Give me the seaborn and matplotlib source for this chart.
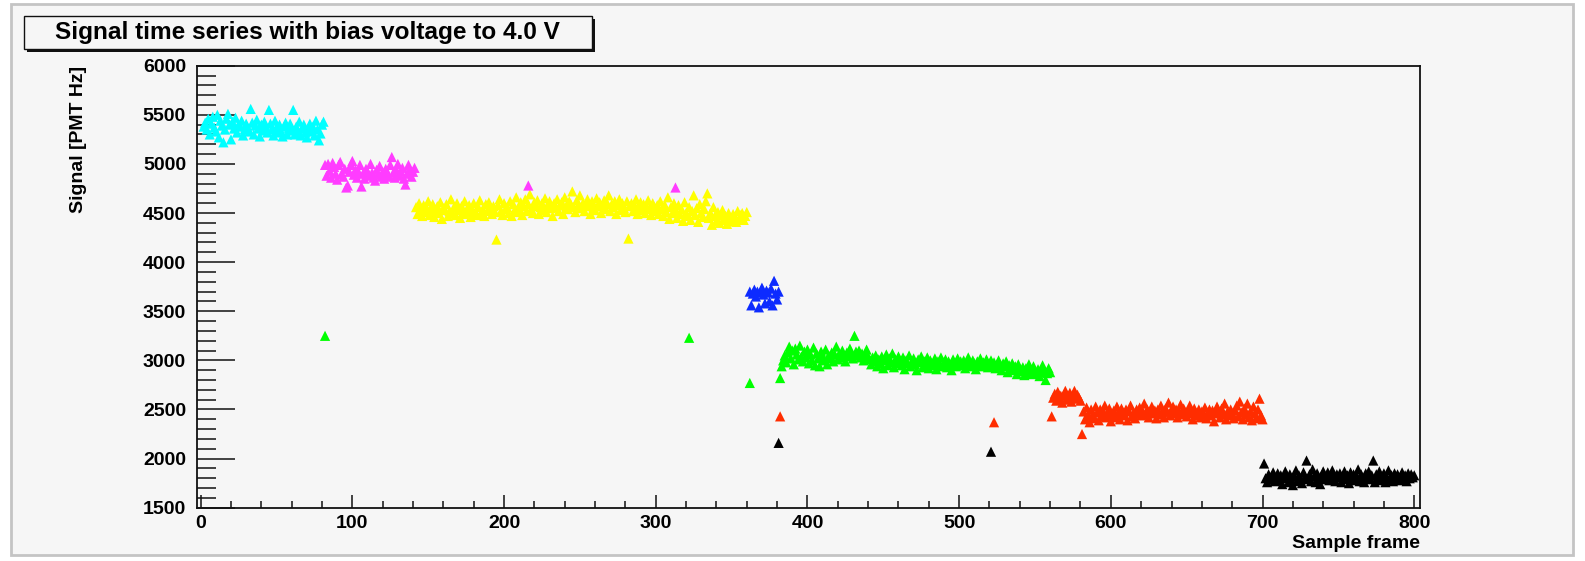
import numpy as np
import pandas as pd
import matplotlib
matplotlib.use("Agg")
import matplotlib.pyplot as plt
from matplotlib.patches import Rectangle
from matplotlib.ticker import MultipleLocator
import seaborn as sns

# ---------------------------------------------------------------------------
# Signal readings per sample frame, one run per colour (consecutive frames)
# ---------------------------------------------------------------------------
run_names = ["run1", "run2", "run3", "run4", "run5", "run6", "run7"]
run_colors = ["#00ffff", "#ff3cff", "#ffff00", "#0d2bff", "#00ff00", "#ff2d00", "#000000"]
run_starts = [2, 82, 142, 362, 382, 561, 701]

run1_signal = [
    5380, 5420, 5350, 5460, 5300, 5410, 5480, 5370, 5330, 5500,
    5270, 5440, 5390, 5220, 5350, 5460, 5510, 5400, 5250, 5430,
    5360, 5470, 5320, 5400, 5380, 5440, 5290, 5350, 5410, 5370,
    5330, 5560, 5420, 5300, 5390, 5450, 5360, 5280, 5400, 5340,
    5430, 5380, 5320, 5550, 5410, 5350, 5290, 5440, 5370, 5320,
    5400, 5330, 5280, 5380, 5420, 5300, 5360, 5410, 5340, 5550,
    5300, 5380, 5330, 5430, 5290, 5360, 5400, 5320, 5270, 5350,
    5410, 5330, 5380, 5290, 5440, 5350, 5240, 5310, 5400, 5430,
]
run2_signal = [
    4990, 4880, 5000, 4930, 4860, 5010, 4970, 4900, 4840, 4990,
    5020, 4900, 4870, 4950, 4760, 4780, 4920, 4990, 5030, 4890,
    4940, 4860, 4920, 4990, 4770, 4900, 4850, 4950, 4920, 4880,
    5000, 4910, 4860, 4830, 4940, 4890, 4980, 4870, 4920, 4850,
    4950, 4900, 4870, 4990, 5070, 4910, 4860, 4940, 5000, 4880,
    4920, 4960, 4850, 4790, 4900, 4990, 4940, 4870, 4920, 4960,
]
run3_signal = [
    4560, 4490, 4600, 4530, 4470, 4580, 4510, 4550, 4620, 4480,
    4540, 4590, 4460, 4520, 4570, 4500, 4610, 4440, 4550, 4530,
    4590, 4470, 4520, 4640, 4500, 4560, 4480, 4600, 4530, 4450,
    4570, 4510, 4620, 4490, 4550, 4580, 4460, 4530, 4600, 4510,
    4480, 4560, 4630, 4500, 4540, 4470, 4590, 4520, 4610, 4550,
    4490, 4570, 4510, 4230, 4580, 4640, 4520, 4480, 4600, 4540,
    4560, 4500, 4620, 4470, 4590, 4530, 4660, 4510, 4550, 4610,
    4480, 4570, 4640, 4520, 4590, 4690, 4540, 4500, 4610, 4570,
    4630, 4490, 4560, 4600, 4530, 4650, 4510, 4580, 4620, 4550,
    4470, 4600, 4560, 4640, 4520, 4580, 4610, 4490, 4660, 4570,
    4540, 4620, 4590, 4720, 4560, 4510, 4630, 4580, 4680, 4550,
    4600, 4520, 4570, 4640, 4590, 4490, 4620, 4560, 4530, 4650,
    4580, 4610, 4500, 4570, 4630, 4540, 4600, 4680, 4520, 4590,
    4560, 4620, 4490, 4580, 4640, 4530, 4600, 4550, 4510, 4620,
    4240, 4570, 4600, 4520, 4580, 4640, 4490, 4560, 4610, 4530,
    4590, 4500, 4570, 4630, 4540, 4480, 4600, 4560, 4520, 4580,
    4490, 4620, 4540, 4470, 4580, 4510, 4660, 4440, 4560, 4500,
    4600, 4530, 4450, 4580, 4490, 4540, 4420, 4610, 4500, 4470,
    4560, 4430, 4520, 4680, 4480, 4550, 4410, 4590, 4500, 4460,
    4540, 4620, 4700, 4450, 4500, 4380, 4560, 4470, 4420, 4510,
    4400, 4480, 4530, 4430, 4470, 4390, 4500, 4450, 4420, 4490,
    4460, 4410, 4520, 4440, 4480, 4500, 4430, 4470, 4510,
]
run4_signal = [
    3700, 3560, 3680, 3720, 3650, 3700, 3540, 3690, 3740, 3670,
    3580, 3710, 3690, 3600, 3730, 3560, 3810, 3680, 3620, 3700,
]
run5_signal = [
    2820, 2940, 3000, 3050, 2980, 3080, 3140, 3020, 3100, 2960,
    3120, 3060, 3010, 3150, 3040, 2990, 3090, 3030, 3110, 2970,
    3060, 3000, 3130, 2950, 3070, 3020, 2940, 3090, 3040, 3000,
    3110, 2960, 3050, 3020, 3080, 2990, 3060, 3140, 3010, 3070,
    3030, 3100, 3050, 2990, 3080, 3040, 3120, 3060, 3020, 3250,
    3090, 3050, 3100, 3030, 3070, 3000, 3060, 3110, 3040, 3010,
    2960, 3030, 2990, 3050, 2940, 3010, 2970, 3040, 2920, 3000,
    3060, 2950, 3020, 2980, 3070, 2930, 3010, 2970, 3040, 2990,
    2950, 3030, 2910, 3000, 2970, 3050, 2940, 2990, 3020, 2960,
    2900, 3010, 2980, 3040, 2930, 2990, 2960, 3030, 2920, 3000,
    2970, 2950, 3020, 2910, 2990, 2960, 3030, 2940, 2980, 3010,
    2930, 2990, 2960, 2900, 3010, 2970, 2940, 3020, 2960, 2990,
    2950, 3000, 2920, 2980, 3030, 2960, 2940, 3000, 2970, 2910,
    2990, 2960, 3020, 2940, 2980, 2950, 3010, 2930, 2970, 3000,
    2940, 2980, 2920, 2960, 3000, 2950, 2900, 2970, 2940, 2990,
    2880, 2950, 2920, 2970, 2900, 2940, 2860, 2960, 2910, 2890,
    2930, 2850, 2920, 2880, 2960, 2900, 2860, 2940, 2890, 2870,
    2910, 2840, 2880, 2950, 2900, 2800, 2870, 2920, 2880,
]
run6_signal = [
    2430, 2620, 2660, 2590, 2680, 2610, 2640, 2570, 2650, 2690,
    2600, 2630, 2670, 2580, 2640, 2690, 2610, 2650, 2620, 2590,
    2250, 2480, 2400, 2520, 2440, 2370, 2500, 2450, 2410, 2530,
    2470, 2390, 2500, 2430, 2480, 2540, 2420, 2460, 2510, 2380,
    2450, 2490, 2420, 2530, 2460, 2400, 2510, 2470, 2440, 2500,
    2390, 2480, 2540, 2430, 2470, 2410, 2500, 2460, 2520, 2440,
    2480, 2560, 2450, 2500, 2420, 2470, 2530, 2460, 2490, 2410,
    2500, 2450, 2540, 2470, 2420, 2510, 2480, 2570, 2440, 2490,
    2530, 2460, 2500, 2420, 2480, 2550, 2450, 2510, 2470, 2430,
    2490, 2540, 2460, 2400, 2510, 2470, 2440, 2500, 2420, 2480,
    2450, 2520, 2410, 2470, 2500, 2440, 2490, 2380, 2460, 2530,
    2470, 2420, 2510, 2450, 2560, 2400, 2480, 2440, 2500, 2460,
    2410, 2490, 2540, 2430, 2580, 2470, 2400, 2510, 2450, 2560,
    2420, 2480, 2390, 2530, 2460, 2410, 2500, 2610, 2440, 2400,
]
run7_signal = [
    1950, 1800, 1760, 1840, 1790, 1820, 1860, 1770, 1810, 1850,
    1780, 1830, 1740, 1800, 1870, 1810, 1760, 1840, 1790, 1730,
    1820, 1880, 1770, 1830, 1800, 1750, 1860, 1810, 1980, 1790,
    1840, 1770, 1890, 1820, 1760, 1850, 1800, 1740, 1830, 1870,
    1790, 1810, 1860, 1780, 1830, 1880, 1800, 1770, 1840, 1810,
    1850, 1760, 1820, 1870, 1790, 1830, 1750, 1860, 1800, 1840,
    1780, 1820, 1890, 1770, 1840, 1800, 1760, 1850, 1810, 1870,
    1790, 1830, 1980, 1760, 1840, 1800, 1870, 1780, 1820, 1850,
    1760, 1810, 1880, 1790, 1830, 1770, 1850, 1800, 1840, 1780,
    1820, 1860, 1790, 1830, 1770, 1850, 1800, 1840, 1810, 1830,
]
run_signals = [run1_signal, run2_signal, run3_signal, run4_signal,
               run5_signal, run6_signal, run7_signal]

# isolated readings that fall outside their run's block of frames
stray_frames = [82, 322, 362, 216, 313, 382, 523, 381, 521]
stray_signal = [3250, 3230, 2770, 4780, 4760, 2430, 2370, 2160, 2070]
stray_runs = ["run5", "run5", "run5", "run2", "run2", "run6", "run6", "run7", "run7"]

# ---------------------------------------------------------------------------
frames, signal, runs = [], [], []
for name, start, vals in zip(run_names, run_starts, run_signals):
    frames += list(range(start, start + len(vals)))
    signal += vals
    runs += [name] * len(vals)
frames += stray_frames
signal += stray_signal
runs += stray_runs
df = pd.DataFrame({"frame": frames, "signal": signal, "run": runs})
palette = dict(zip(run_names, run_colors))

sns.set_theme(style="ticks")
plt.rcParams["font.family"] = ["Liberation Sans", "DejaVu Sans"]
plt.rcParams["font.weight"] = "bold"
for key in ["text.color", "axes.labelcolor", "xtick.color", "ytick.color"]:
    plt.rcParams[key] = "black"

BG = "#f6f6f6"
W, H = 1585, 561
fig = plt.figure(figsize=(W / 100, H / 100), dpi=100, facecolor="white")

# canvas area with a thin grey border (behind everything else)
fig.patches.append(Rectangle((11 / W, 1 - 555 / H), (1573 - 11) / W, (555 - 4) / H,
                             transform=fig.transFigure, facecolor=BG,
                             edgecolor="#c4c4c4", linewidth=2.0, zorder=-10))

ax = fig.add_axes([196.7 / W, 1 - 507.7 / H, (1420 - 196.7) / W, (507.7 - 65.7) / H])
ax.set_facecolor(BG)

sns.scatterplot(data=df, x="frame", y="signal", hue="run", palette=palette,
                marker="^", s=54, linewidth=0, legend=False, ax=ax, zorder=3)

ax.set_xlim(-2.6, 803.8)
ax.set_ylim(1500, 6000)
ax.xaxis.set_major_locator(MultipleLocator(100))
ax.xaxis.set_minor_locator(MultipleLocator(20))
ax.yaxis.set_major_locator(MultipleLocator(500))
ax.yaxis.set_minor_locator(MultipleLocator(100))

for sp in ax.spines.values():
    sp.set_visible(True)
    sp.set_linewidth(1.3)
    sp.set_color("#111111")

ax.tick_params(axis="y", which="major", direction="in", length=27.4, width=1.1,
               color="#111111", labelsize=14, pad=7.7, left=True, right=False)
ax.tick_params(axis="y", which="minor", direction="in", length=13.7, width=1.1,
               color="#111111", left=True, right=False)
ax.tick_params(axis="x", which="major", direction="in", length=9.4, width=1.1,
               color="#111111", labelsize=14, pad=5, bottom=True, top=False)
ax.tick_params(axis="x", which="minor", direction="in", length=4.7, width=1.1,
               color="#111111", bottom=True, top=False)
for lab in ax.get_xticklabels() + ax.get_yticklabels():
    lab.set_fontweight("bold")

ax.set_xlabel("Sample frame", fontsize=14, fontweight="bold", loc="right")
ax.xaxis.set_label_coords(1.0, -0.062)
ax.set_ylabel("Signal [PMT Hz]", fontsize=14, fontweight="bold", loc="top")
ax.yaxis.set_label_coords(-0.0894, 1.0)

# title pave with a drop shadow
bx0, bx1, by0, by1 = 23.7, 591.5, 16, 48.5
fig.patches.append(Rectangle(((bx0 + 3.5) / W, 1 - (by1 + 3.5) / H), (bx1 - bx0) / W, (by1 - by0) / H,
                             transform=fig.transFigure, facecolor="#111111",
                             edgecolor="none", zorder=1))
fig.patches.append(Rectangle((bx0 / W, 1 - by1 / H), (bx1 - bx0) / W, (by1 - by0) / H,
                             transform=fig.transFigure, facecolor=BG,
                             edgecolor="#111111", linewidth=1.0, zorder=2))
fig.text((bx0 + bx1) / 2 / W, 1 - (by0 + by1) / 2 / H,
         "Signal time series with bias voltage to 4.0 V",
         ha="center", va="center", fontsize=17.6, fontweight="bold", zorder=3)

fig.savefig("out.png", dpi=100, facecolor=fig.get_facecolor())
